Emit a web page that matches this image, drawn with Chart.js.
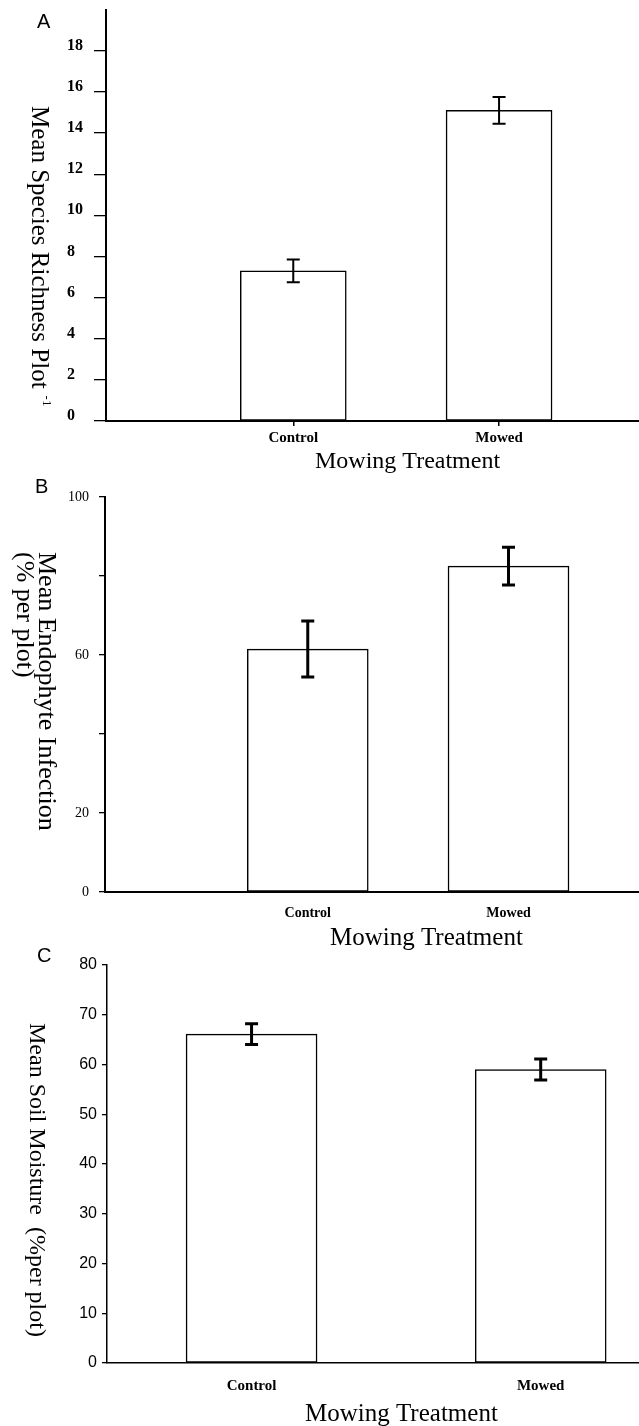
<!DOCTYPE html>
<html>
<head>
<meta charset="utf-8">
<title>Mowing treatment</title>
<script src="https://cdn.jsdelivr.net/npm/chart.js@4.4.1/dist/chart.umd.min.js"></script>
<style>
  html, body { margin: 0; padding: 0; background: #fff; }
  body { width: 639px; height: 1426px; position: relative; overflow: hidden; }
  .panel { position: absolute; left: 0; width: 639px; }
</style>
</head>
<body>
<div class="panel" style="top:0;height:478px"><canvas id="chart-a"></canvas></div>
<div class="panel" style="top:474px;height:478px"><canvas id="chart-b"></canvas></div>
<div class="panel" style="top:942px;height:484px"><canvas id="chart-c"></canvas></div>
<script>
  const categories = ['Control', 'Mowed'];

  const richnessMean = [7.3, 15.1];
  const richnessErr = [0.55, 0.65];
  const richnessTicks = [0, 2, 4, 6, 8, 10, 12, 14, 16, 18];
  const richnessTickLabels = ['0', '2', '4', '6', '8', '10', '12', '14', '16', '18'];

  const endophyteMean = [61.5, 82.5];
  const endophyteErr = [7.1, 4.8];
  const endophyteTicks = [0, 20, 40, 60, 80, 100];
  const endophyteTickLabels = ['0', '20', '', '60', '', '100'];

  const moistureMean = [66.1, 59.0];
  const moistureErr = [2.1, 2.1];
  const moistureTicks = [0, 10, 20, 30, 40, 50, 60, 70, 80];
  const moistureTickLabels = ['0', '10', '20', '30', '40', '50', '60', '70', '80'];

  const serif = "'Liberation Serif', 'Times New Roman', serif";
  const sans = "'Liberation Sans', Arial, sans-serif";

  // error bars are drawn from the dataset's own errors array
  const errorBars = {
    id: 'errorBars',
    afterDatasetsDraw(chart, args, opts) {
      const { ctx } = chart;
      const yScale = chart.scales.y;
      const dataset = chart.data.datasets[0];
      const meta = chart.getDatasetMeta(0);
      ctx.save();
      ctx.strokeStyle = '#000';
      ctx.lineWidth = opts.width;
      meta.data.forEach((bar, i) => {
        const value = dataset.data[i].y;
        const err = dataset.errors[i];
        const top = yScale.getPixelForValue(value + err);
        const bottom = yScale.getPixelForValue(value - err);
        const half = opts.cap / 2;
        ctx.beginPath();
        ctx.moveTo(bar.x, top);
        ctx.lineTo(bar.x, bottom);
        ctx.moveTo(bar.x - half, top);
        ctx.lineTo(bar.x + half, top);
        ctx.moveTo(bar.x - half, bottom);
        ctx.lineTo(bar.x + half, bottom);
        ctx.stroke();
      });
      ctx.restore();
    },
  };

  // panel letter, rotated y title (reads top to bottom) and x title
  const panelText = {
    id: 'panelText',
    afterDraw(chart, args, opts) {
      const { ctx } = chart;
      ctx.save();
      ctx.fillStyle = '#000';
      ctx.textBaseline = 'alphabetic';
      ctx.textAlign = 'left';

      ctx.font = `20px ${sans}`;
      ctx.fillText(opts.letter, opts.letterX, opts.letterY);

      opts.yTitle.forEach((line) => {
        ctx.save();
        ctx.translate(line.x, line.y);
        ctx.rotate(Math.PI / 2);
        ctx.font = opts.yTitleFont;
        ctx.fillText(line.text, 0, 0);
        if (line.sup) {
          const offset = ctx.measureText(line.text).width + 7;
          ctx.font = `13px ${serif}`;
          ctx.fillText(line.sup, offset, -line.supRise);
        }
        ctx.restore();
      });

      ctx.font = opts.xTitleFont;
      ctx.fillText(opts.xTitle, opts.xTitleX, opts.xTitleY);
      ctx.restore();
    },
  };

  const buildPanel = (canvasId, cfg) => {
    new Chart(document.getElementById(canvasId), {
      type: 'bar',
      data: {
        datasets: [
          {
            data: cfg.means.map((y, i) => ({ x: i + 1, y })),
            errors: cfg.errors,
            backgroundColor: '#fff',
            borderColor: '#000',
            borderWidth: 1.5,
            borderSkipped: false,
            barThickness: cfg.barThickness,
          },
        ],
      },
      options: {
        responsive: true,
        maintainAspectRatio: false,
        devicePixelRatio: 1,
        animation: false,
        layout: { padding: { top: cfg.padTop, left: cfg.padLeft, right: 0, bottom: 0 } },
        plugins: {
          legend: { display: false },
          tooltip: { enabled: false },
          errorBars: { width: cfg.errWidth, cap: 13 },
          panelText: cfg.text,
        },
        scales: {
          x: {
            type: 'linear',
            bounds: 'data',
            min: cfg.xMin,
            max: cfg.xMax,
            offset: false,
            afterBuildTicks: (scale) => {
              scale.ticks = categories.map((_, i) => ({ value: i + 1 }));
            },
            afterFit: (scale) => {
              scale.height = cfg.xHeight;
            },
            ticks: {
              callback: (value, index) => categories[index],
              autoSkip: false,
              maxRotation: 0,
              color: '#000',
              padding: cfg.xTickPadding,
              font: cfg.xFont,
            },
            grid: {
              display: true,
              offset: false,
              drawOnChartArea: false,
              drawTicks: cfg.xTickLength > 0,
              tickLength: cfg.xTickLength,
              color: '#000',
              lineWidth: 1.5,
            },
            border: { display: true, color: '#000', width: cfg.axisWidth },
          },
          y: {
            min: 0,
            max: cfg.yMax,
            bounds: 'data',
            afterBuildTicks: (scale) => {
              scale.ticks = cfg.tickValues.map((value) => ({ value }));
            },
            afterFit: (scale) => {
              scale.width = cfg.yWidth;
            },
            ticks: {
              callback: (value, index) => cfg.tickLabels[index],
              color: '#000',
              padding: cfg.yTickPadding,
              crossAlign: cfg.crossAlign,
              labelOffset: cfg.labelOffset,
              font: cfg.yFont,
            },
            grid: {
              display: true,
              drawOnChartArea: false,
              tickLength: cfg.yTickLength,
              color: '#000',
              lineWidth: 1.3,
            },
            border: { display: true, color: '#000', width: cfg.axisWidth },
          },
        },
      },
      plugins: [errorBars, panelText],
    });
  };

  buildPanel('chart-a', {
    means: richnessMean,
    errors: richnessErr,
    tickValues: richnessTicks,
    tickLabels: richnessTickLabels,
    yMax: 20,
    xMin: 0.09,
    xMax: 2.68,
    barThickness: 106,
    padTop: 9,
    padLeft: 67,
    yWidth: 39,
    xHeight: 57,
    yTickLength: 12,
    yTickPadding: 0,
    crossAlign: 'far',
    labelOffset: -5,
    yFont: { family: serif, size: 16, weight: 'bold' },
    xTickLength: 5,
    xTickPadding: 3,
    xFont: { family: serif, size: 15, weight: 'bold' },
    axisWidth: 2,
    errWidth: 2,
    text: {
      letter: 'A',
      letterX: 37,
      letterY: 28,
      yTitleFont: `25px ${serif}`,
      yTitle: [{ text: 'Mean Species Richness Plot', x: 32, y: 106, sup: '-1', supRise: 11 }],
      xTitle: 'Mowing Treatment',
      xTitleFont: `24px ${serif}`,
      xTitleX: 315,
      xTitleY: 468,
    },
  });

  buildPanel('chart-b', {
    means: endophyteMean,
    errors: endophyteErr,
    tickValues: endophyteTicks,
    tickLabels: endophyteTickLabels,
    yMax: 100,
    xMin: -0.01,
    xMax: 2.65,
    barThickness: 121,
    padTop: 23,
    padLeft: 0,
    yWidth: 105,
    xHeight: 60,
    yTickLength: 6,
    yTickPadding: 10,
    crossAlign: 'near',
    labelOffset: 0,
    yFont: { family: serif, size: 14 },
    xTickLength: 0,
    xTickPadding: 13,
    xFont: { family: serif, size: 14, weight: 'bold' },
    axisWidth: 2,
    errWidth: 3,
    text: {
      letter: 'B',
      letterX: 35,
      letterY: 19,
      yTitleFont: `26px ${serif}`,
      yTitle: [
        { text: 'Mean Endophyte Infection', x: 39, y: 78 },
        { text: '(% per plot)', x: 17, y: 78 },
      ],
      xTitle: 'Mowing Treatment',
      xTitleFont: `25px ${serif}`,
      xTitleX: 330,
      xTitleY: 471,
    },
  });

  buildPanel('chart-c', {
    means: moistureMean,
    errors: moistureErr,
    tickValues: moistureTicks,
    tickLabels: moistureTickLabels,
    yMax: 80,
    xMin: 0.5,
    xMax: 2.34,
    barThickness: 131,
    padTop: 23,
    padLeft: 0,
    yWidth: 107,
    xHeight: 63,
    yTickLength: 5,
    yTickPadding: 5,
    crossAlign: 'near',
    labelOffset: 0,
    yFont: { family: sans, size: 16 },
    xTickLength: 0,
    xTickPadding: 14,
    xFont: { family: serif, size: 15, weight: 'bold' },
    axisWidth: 1.5,
    errWidth: 3,
    text: {
      letter: 'C',
      letterX: 37,
      letterY: 20,
      yTitleFont: `24px ${serif}`,
      yTitle: [{ text: 'Mean Soil Moisture  (%per plot)', x: 30, y: 81 }],
      xTitle: 'Mowing Treatment',
      xTitleFont: `25px ${serif}`,
      xTitleX: 305,
      xTitleY: 479,
    },
  });
</script>
</body>
</html>
